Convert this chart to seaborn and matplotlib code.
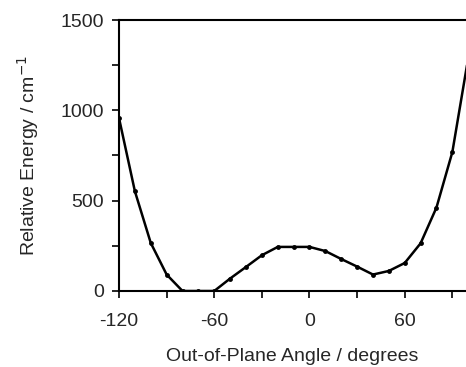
import matplotlib
matplotlib.use("Agg")
import matplotlib.pyplot as plt
from matplotlib.ticker import MultipleLocator
import pandas as pd
import seaborn as sns

# out-of-plane angle scan (degrees) and relative energy (cm^-1)
angles = [-120, -110, -100, -90, -80, -70, -60, -50, -40, -30, -20,
          -10, 0, 10, 20, 30, 40, 50, 60, 70, 80, 90, 100]
energies = [957, 552, 266, 91, 0, 0, 0, 69, 133, 198, 244,
            244, 244, 221, 177, 135, 91, 111, 155, 264, 462, 769, 1290]

x_ticks = [-120, -60, 0, 60]
y_ticks = [0, 500, 1000, 1500]

scan_df = pd.DataFrame({'angle': angles, 'energy': energies})

sns.set_style("ticks")
plt.rcParams['font.family'] = ['Liberation Sans', 'DejaVu Sans']
plt.rcParams['axes.unicode_minus'] = False

fig = plt.figure(figsize=(4.66, 3.67), dpi=100)
ax = fig.add_axes([0.2554, 0.2071, 0.7446, 0.7384])

sns.lineplot(data=scan_df, x='angle', y='energy', ax=ax, color='black',
             linewidth=1.8, marker='o', markersize=3.5, markeredgewidth=0)

ax.set_xlim(-120, 98.6)
ax.set_ylim(0, 1500)
ax.set_xticks(x_ticks)
ax.set_yticks(y_ticks)
ax.xaxis.set_minor_locator(MultipleLocator(30))
ax.yaxis.set_minor_locator(MultipleLocator(250))
ax.tick_params(which='both', direction='out', length=5, width=1.2,
               labelsize=14, color='black')
ax.tick_params(axis='y', pad=6)
ax.tick_params(axis='x', pad=11)

for side in ['left', 'top', 'bottom']:
    ax.spines[side].set_linewidth(1.5)
    ax.spines[side].set_color('black')
ax.spines['right'].set_visible(False)

ax.set_xlabel('Out-of-Plane Angle / degrees', fontsize=14, labelpad=13)
ax.set_ylabel(r'Relative Energy / cm$^{-1}$', fontsize=14, labelpad=14)

fig.savefig('out.png', dpi=100)
